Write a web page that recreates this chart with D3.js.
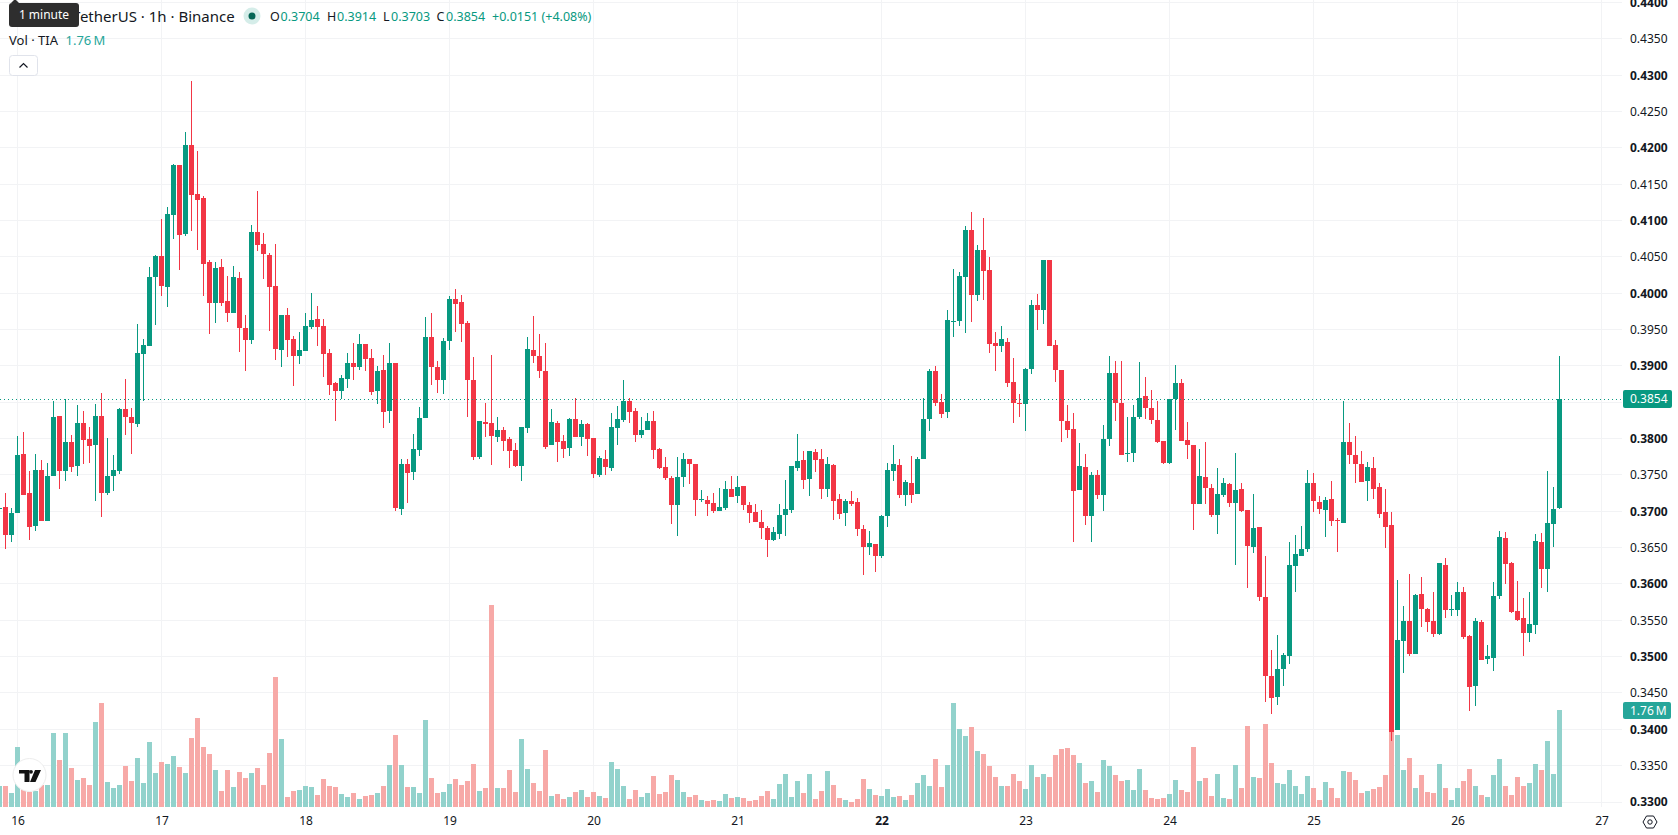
<!DOCTYPE html>
<html>
<head>
<meta charset="utf-8">
<title>TIA / TetherUS 1h</title>
<script src="https://cdnjs.cloudflare.com/ajax/libs/d3/7.8.5/d3.min.js"></script>
<style>
  html, body { margin: 0; padding: 0; background: #fff; overflow: hidden; }
  svg { display: block; font-family: "Noto Sans", "Open Sans", sans-serif; }
</style>
</head>
<body>
<svg id="chart" width="1678" height="835"></svg>
<script>
// Hourly candles, oldest first. The first bar opens three hours before day 16.
const opens = [
0.3705,0.3706,0.3667,0.3698,0.3779,0.3725,0.3680,0.3757,0.3687,0.3748,
0.3831,0.3756,0.3795,0.3763,0.3822,0.3800,0.3791,0.3831,0.3725,0.3749,
0.3756,0.3841,0.3830,0.3820,0.3917,0.3928,0.4022,0.4051,0.4009,0.4108,
0.4177,0.4082,0.4204,0.4137,0.4131,0.4043,0.3987,0.4036,0.3989,0.3973,
0.4021,0.3952,0.3936,0.4084,0.4068,0.4053,0.4010,0.3922,0.3970,0.3937,
0.3914,0.3921,0.3954,0.3965,0.3955,0.3918,0.3877,0.3866,0.3882,0.3904,
0.3899,0.3930,0.3911,0.3866,0.3894,0.3838,0.3904,0.3703,0.3765,0.3754,
0.3784,0.3828,0.3940,0.3899,0.3881,0.3934,0.3992,0.3988,0.3959,0.3881,
0.3775,0.3823,0.3822,0.3802,0.3812,0.3800,0.3784,0.3762,0.3815,0.3922,
0.3914,0.3893,0.3791,0.3822,0.3797,0.3787,0.3827,0.3802,0.3820,0.3801,
0.3750,0.3772,0.3760,0.3815,0.3826,0.3852,0.3838,0.3805,0.3812,0.3824,
0.3786,0.3761,0.3746,0.3709,0.3747,0.3772,0.3765,0.3716,0.3716,0.3711,
0.3700,0.3705,0.3731,0.3721,0.3735,0.3709,0.3699,0.3685,0.3677,0.3661,
0.3669,0.3695,0.3702,0.3760,0.3771,0.3744,0.3782,0.3772,0.3731,0.3764,
0.3717,0.3698,0.3714,0.3713,0.3676,0.3651,0.3655,0.3639,0.3694,0.3755,
0.3764,0.3722,0.3739,0.3724,0.3772,0.3827,0.3893,0.3850,0.3837,0.3960,
0.3962,0.4022,0.4087,0.3998,0.4060,0.4032,0.3932,0.3927,0.3933,0.3878,
0.3849,0.3848,0.3896,0.3984,0.3977,0.4046,0.3929,0.3894,0.3824,0.3813,
0.3729,0.3761,0.3694,0.3750,0.3722,0.3800,0.3890,0.3849,0.3779,0.3780,
0.3830,0.3859,0.3842,0.3826,0.3797,0.3766,0.3855,0.3877,0.3798,0.3791,
0.3710,0.3747,0.3732,0.3695,0.3722,0.3738,0.3711,0.3731,0.3702,0.3651,
0.3678,0.3582,0.3473,0.3445,0.3483,0.3501,0.3625,0.3639,0.3648,0.3739,
0.3713,0.3702,0.3717,0.3688,0.3684,0.3795,0.3777,0.3765,0.3742,0.3760,
0.3733,0.3699,0.3681,0.3399,0.3522,0.3549,0.3504,0.3586,0.3566,0.3549,
0.3531,0.3626,0.3564,0.3564,0.3589,0.3528,0.3460,0.3548,0.3497,0.3498,
0.3583,0.3663,0.3629,0.3563,0.3553,0.3532,0.3544,0.3658,0.3621,0.3683,0.3704];

const highs = [
0.3706,0.3725,0.3704,0.3804,0.3809,0.3755,0.3779,0.3771,0.3767,0.3852,
0.3831,0.3854,0.3805,0.3846,0.3838,0.3816,0.3848,0.3863,0.3801,0.3778,
0.3842,0.3882,0.3842,0.3958,0.3937,0.4036,0.4053,0.4102,0.4119,0.4178,
0.4177,0.4222,0.4292,0.4196,0.4134,0.4046,0.4043,0.4047,0.4024,0.4038,
0.4029,0.3970,0.4094,0.4141,0.4083,0.4055,0.4068,0.3970,0.3980,0.3941,
0.3947,0.3973,0.4000,0.3983,0.3965,0.3923,0.3878,0.3888,0.3918,0.3932,
0.3944,0.3930,0.3923,0.3900,0.3915,0.3932,0.3904,0.3772,0.3772,0.3806,
0.3844,0.3967,0.3973,0.3907,0.3938,0.3996,0.4006,0.3998,0.3962,0.3912,
0.3824,0.3849,0.3915,0.3830,0.3816,0.3802,0.3794,0.3816,0.3940,0.3969,
0.3944,0.3932,0.3841,0.3824,0.3805,0.3828,0.3856,0.3826,0.3822,0.3801,
0.3776,0.3784,0.3835,0.3845,0.3881,0.3856,0.3842,0.3830,0.3835,0.3838,
0.3787,0.3775,0.3749,0.3775,0.3780,0.3772,0.3765,0.3729,0.3721,0.3725,
0.3732,0.3742,0.3749,0.3749,0.3735,0.3713,0.3710,0.3702,0.3680,0.3678,
0.3710,0.3743,0.3762,0.3806,0.3783,0.3783,0.3786,0.3786,0.3775,0.3765,
0.3724,0.3717,0.3728,0.3718,0.3681,0.3673,0.3655,0.3695,0.3766,0.3791,
0.3772,0.3743,0.3776,0.3775,0.3856,0.3896,0.3900,0.3861,0.3977,0.4033,
0.4029,0.4093,0.4112,0.4066,0.4104,0.4050,0.3947,0.3955,0.3939,0.3911,
0.3861,0.3897,0.3991,0.3999,0.4046,0.4046,0.3936,0.3895,0.3846,0.3835,
0.3794,0.3779,0.3754,0.3757,0.3819,0.3914,0.3907,0.3907,0.3830,0.3846,
0.3905,0.3885,0.3867,0.3852,0.3797,0.3855,0.3901,0.3882,0.3823,0.3791,
0.3786,0.3795,0.3738,0.3760,0.3746,0.3739,0.3780,0.3739,0.3702,0.3724,
0.3679,0.3639,0.3509,0.3530,0.3505,0.3658,0.3667,0.3680,0.3757,0.3753,
0.3721,0.3720,0.3742,0.3691,0.3852,0.3822,0.3804,0.3783,0.3768,0.3775,
0.3739,0.3731,0.3699,0.3606,0.3570,0.3614,0.3586,0.3610,0.3567,0.3589,
0.3629,0.3636,0.3585,0.3603,0.3596,0.3530,0.3553,0.3550,0.3516,0.3603,
0.3673,0.3672,0.3630,0.3604,0.3581,0.3589,0.3669,0.3670,0.3755,0.3733,0.3914];

const lows = [
0.3705,0.3648,0.3658,0.3698,0.3723,0.3661,0.3673,0.3687,0.3687,0.3748,
0.3731,0.3742,0.3754,0.3749,0.3765,0.3767,0.3714,0.3692,0.3722,0.3728,
0.3751,0.3805,0.3779,0.3816,0.3852,0.3927,0.3956,0.3996,0.3981,0.4075,
0.4032,0.4079,0.4086,0.4060,0.3996,0.3944,0.3959,0.3983,0.3961,0.3973,
0.3919,0.3893,0.3930,0.4058,0.4020,0.3948,0.3908,0.3899,0.3912,0.3872,
0.3903,0.3921,0.3951,0.3928,0.3885,0.3860,0.3824,0.3855,0.3870,0.3881,
0.3894,0.3893,0.3860,0.3848,0.3815,0.3822,0.3700,0.3695,0.3711,0.3743,
0.3776,0.3828,0.3874,0.3863,0.3861,0.3922,0.3947,0.3933,0.3830,0.3771,
0.3772,0.3802,0.3764,0.3795,0.3783,0.3760,0.3761,0.3742,0.3808,0.3904,
0.3883,0.3786,0.3791,0.3768,0.3773,0.3776,0.3802,0.3790,0.3776,0.3746,
0.3747,0.3750,0.3755,0.3791,0.3823,0.3822,0.3795,0.3801,0.3812,0.3772,
0.3758,0.3743,0.3683,0.3666,0.3733,0.3738,0.3694,0.3713,0.3694,0.3698,
0.3700,0.3702,0.3720,0.3711,0.3702,0.3684,0.3685,0.3662,0.3637,0.3659,
0.3662,0.3666,0.3698,0.3755,0.3731,0.3721,0.3754,0.3717,0.3720,0.3688,
0.3689,0.3680,0.3707,0.3666,0.3612,0.3640,0.3616,0.3636,0.3678,0.3742,
0.3718,0.3707,0.3711,0.3724,0.3772,0.3810,0.3845,0.3828,0.3828,0.3940,
0.3955,0.3945,0.3960,0.3989,0.3991,0.3918,0.3893,0.3919,0.3871,0.3822,
0.3830,0.3810,0.3889,0.3950,0.3958,0.3927,0.3878,0.3795,0.3801,0.3658,
0.3729,0.3681,0.3658,0.3717,0.3700,0.3790,0.3824,0.3778,0.3768,0.3768,
0.3827,0.3827,0.3820,0.3794,0.3765,0.3765,0.3812,0.3797,0.3772,0.3674,
0.3710,0.3710,0.3692,0.3669,0.3720,0.3706,0.3626,0.3699,0.3594,0.3643,
0.3577,0.3438,0.3421,0.3433,0.3460,0.3490,0.3589,0.3639,0.3644,0.3699,
0.3696,0.3665,0.3680,0.3644,0.3684,0.3765,0.3739,0.3740,0.3714,0.3717,
0.3691,0.3650,0.3384,0.3399,0.3477,0.3501,0.3504,0.3541,0.3534,0.3527,
0.3530,0.3553,0.3556,0.3556,0.3524,0.3425,0.3432,0.3495,0.3490,0.3480,
0.3579,0.3600,0.3560,0.3549,0.3501,0.3520,0.3531,0.3594,0.3589,0.3651,0.3703];

const closes = [
0.3705,0.3667,0.3697,0.3777,0.3723,0.3679,0.3757,0.3687,0.3749,0.3830,
0.3756,0.3795,0.3761,0.3822,0.3798,0.3790,0.3831,0.3725,0.3749,0.3757,
0.3841,0.3830,0.3822,0.3918,0.3929,0.4022,0.4051,0.4010,0.4109,0.4177,
0.4080,0.4204,0.4135,0.4128,0.4040,0.3987,0.4035,0.3987,0.3973,0.4022,
0.3952,0.3936,0.4084,0.4066,0.4054,0.4009,0.3923,0.3970,0.3936,0.3914,
0.3922,0.3955,0.3963,0.3954,0.3916,0.3874,0.3866,0.3883,0.3904,0.3899,
0.3930,0.3910,0.3864,0.3893,0.3837,0.3904,0.3705,0.3765,0.3753,0.3786,
0.3828,0.3940,0.3899,0.3881,0.3934,0.3992,0.3985,0.3958,0.3881,0.3775,
0.3824,0.3820,0.3804,0.3812,0.3797,0.3783,0.3762,0.3816,0.3923,0.3914,
0.3893,0.3789,0.3823,0.3795,0.3786,0.3827,0.3802,0.3820,0.3800,0.3751,
0.3773,0.3761,0.3816,0.3827,0.3852,0.3837,0.3805,0.3812,0.3824,0.3784,
0.3760,0.3746,0.3709,0.3747,0.3772,0.3765,0.3716,0.3717,0.3710,0.3700,
0.3706,0.3731,0.3720,0.3733,0.3709,0.3698,0.3685,0.3677,0.3661,0.3672,
0.3695,0.3703,0.3762,0.3769,0.3743,0.3783,0.3771,0.3731,0.3765,0.3714,
0.3696,0.3714,0.3710,0.3676,0.3651,0.3656,0.3639,0.3694,0.3757,0.3765,
0.3722,0.3740,0.3722,0.3772,0.3827,0.3893,0.3849,0.3834,0.3963,0.3962,
0.4024,0.4087,0.3998,0.4060,0.4031,0.3930,0.3927,0.3937,0.3877,0.3849,
0.3848,0.3896,0.3984,0.3977,0.4046,0.3927,0.3894,0.3824,0.3812,0.3728,
0.3762,0.3694,0.3750,0.3722,0.3800,0.3890,0.3849,0.3778,0.3780,0.3830,
0.3856,0.3842,0.3826,0.3795,0.3766,0.3855,0.3877,0.3797,0.3791,0.3710,
0.3749,0.3732,0.3695,0.3724,0.3739,0.3711,0.3729,0.3700,0.3652,0.3677,
0.3582,0.3473,0.3443,0.3483,0.3502,0.3626,0.3641,0.3648,0.3739,0.3714,
0.3703,0.3716,0.3687,0.3687,0.3795,0.3777,0.3765,0.3740,0.3761,0.3731,
0.3696,0.3678,0.3396,0.3523,0.3549,0.3504,0.3585,0.3566,0.3548,0.3531,
0.3629,0.3564,0.3566,0.3589,0.3527,0.3458,0.3549,0.3495,0.3501,0.3583,
0.3665,0.3627,0.3561,0.3550,0.3532,0.3545,0.3659,0.3621,0.3684,0.3703,0.3854];

// Traded volume per candle, in millions of TIA.
const volumes = [
.38,.38,.25,1.09,.33,.27,.29,.40,.40,1.34,
.85,1.34,.71,.49,.53,.40,1.54,1.89,.45,.34,
.40,.74,.47,.89,.44,1.18,.62,.82,.78,.93,
.73,.62,1.25,1.62,1.09,.96,.67,.29,.67,.36,
.64,.53,.62,.71,.40,.98,2.36,1.23,.18,.29,
.31,.38,.36,.22,.51,.38,.36,.24,.18,.25,
.15,.20,.22,.25,.38,.76,1.31,.76,.36,.36,
.25,1.58,.53,.25,.27,.42,.51,.40,.47,.78,
.29,.34,3.67,.34,.34,.67,.27,1.23,.69,.44,
.29,1.03,.20,.24,.15,.18,.27,.31,.18,.27,
.20,.16,.82,.69,.38,.15,.31,.18,.25,.56,
.24,.27,.58,.49,.27,.18,.22,.13,.11,.13,
.11,.24,.16,.18,.16,.11,.13,.20,.29,.15,
.42,.60,.18,.47,.25,.60,.15,.29,.65,.40,
.16,.13,.09,.15,.51,.33,.22,.20,.33,.18,
.20,.13,.22,.44,.58,.38,.87,.36,.76,1.89,
1.42,1.29,1.45,1.02,.96,.74,.54,.38,.38,.60,
.47,.33,.76,.54,.60,.54,.94,1.05,1.07,.94,
.80,.44,.47,.27,.85,.74,.58,.47,.49,.31,
.69,.31,.16,.15,.16,.24,.49,.31,.27,1.09,
.47,.53,.20,.60,.16,.15,.76,.34,1.47,.54,
.53,1.51,.80,.44,.42,.67,.38,.24,.56,.34,
.13,.45,.34,.16,.65,.64,.49,.25,.29,.33,
.36,.58,1.58,1.31,.67,.89,.34,.58,.27,.25,
.78,.34,.13,.34,.47,.69,.38,.22,.18,.58,
.87,.38,.22,.54,.38,.44,.78,.67,1.20,.60,1.76];

const dayLabels = ["16","17","18","19","20","21","22","23","24","25","26","27"];
const priceTicks = [0.33,0.335,0.34,0.345,0.35,0.355,0.36,0.365,0.37,0.375,0.38,0.385,
                    0.39,0.395,0.40,0.405,0.41,0.415,0.42,0.425,0.43,0.435,0.44];
const firstHour = -3;            // hours relative to midnight of day 16
const lastPrice = 0.3854;
const lastVolume = 1.76;

const legendOHLC = [
  {k:"O", v:"0.3704", kx:270, vx:280.5},
  {k:"H", v:"0.3914", kx:327, vx:337},
  {k:"L", v:"0.3703", kx:383, vx:391},
  {k:"C", v:"0.3854", kx:436.5, vx:446}
];

const UP = "#089981", DOWN = "#F23645";
const VOL_UP = "#92D2CC", VOL_DOWN = "#F7A9A7";
const TEXT = "#131722", GRID = "#F2F3F5";
const PLOT_W = 1622, PLOT_B = 807;

const candles = opens.map((o, i) => ({
  hour: firstHour + i, o, h: highs[i], l: lows[i], c: closes[i], v: volumes[i], up: closes[i] >= o
}));

const svg = d3.select("#chart");
const x = d3.scaleLinear().domain([0, 1]).range([17.5, 23.5]);
const y = d3.scaleLinear().domain([0.33, 0.44]).range([802, 2.6]);
const yVol = d3.scaleLinear().domain([0, lastVolume]).range([PLOT_B, 710]);
const dayHours = dayLabels.map((_, i) => i * 24);
const crisp = v => Math.floor(v) + 0.5;

// Grid
const grid = svg.append("g").attr("shape-rendering", "crispEdges");
grid.selectAll("line.h").data(priceTicks).join("line")
  .attr("x1", 0).attr("x2", PLOT_W)
  .attr("y1", d => crisp(y(d))).attr("y2", d => crisp(y(d)))
  .attr("stroke", GRID);
grid.selectAll("line.v").data(dayHours).join("line")
  .attr("class", "v")
  .attr("x1", d => crisp(x(d))).attr("x2", d => crisp(x(d)))
  .attr("y1", 0).attr("y2", PLOT_B)
  .attr("stroke", GRID);

// Volume histogram sits under the candles
svg.append("g").attr("shape-rendering", "crispEdges")
  .selectAll("rect").data(candles).join("rect")
  .attr("x", d => Math.round(x(d.hour) - 2.5))
  .attr("width", 5)
  .attr("y", d => Math.round(yVol(d.v)))
  .attr("height", d => PLOT_B - Math.round(yVol(d.v)))
  .attr("fill", d => d.up ? VOL_UP : VOL_DOWN);

// Candles: wick then body
const candleG = svg.append("g").attr("shape-rendering", "crispEdges")
  .selectAll("g").data(candles).join("g")
  .attr("fill", d => d.up ? UP : DOWN);
candleG.append("rect")
  .attr("x", d => Math.floor(x(d.hour)))
  .attr("width", 1)
  .attr("y", d => Math.round(y(d.h)))
  .attr("height", d => Math.max(1, Math.round(y(d.l)) - Math.round(y(d.h))));
candleG.append("rect")
  .attr("x", d => Math.round(x(d.hour) - 2.5))
  .attr("width", 5)
  .attr("y", d => Math.round(y(Math.max(d.o, d.c))))
  .attr("height", d => Math.max(1, Math.round(y(Math.min(d.o, d.c))) - Math.round(y(Math.max(d.o, d.c)))));

// Last price line
svg.append("line")
  .attr("x1", 0).attr("x2", PLOT_W)
  .attr("y1", crisp(y(lastPrice))).attr("y2", crisp(y(lastPrice)))
  .attr("stroke", UP).attr("stroke-dasharray", "1 3")
  .attr("shape-rendering", "crispEdges");

// Price axis, every second tick in bold; the last price badge takes the place of 0.3850
const priceAxis = svg.append("g")
  .attr("transform", `translate(${PLOT_W},0)`)
  .call(d3.axisRight(y).tickValues(priceTicks.filter(t => t !== 0.385))
    .tickSize(0).tickPadding(8).tickFormat(d3.format(".4f")));
priceAxis.select(".domain").remove();
priceAxis.attr("font-family", null);
priceAxis.selectAll("text")
  .attr("font-size", 12).attr("fill", TEXT)
  .attr("font-weight", d => Math.round(d * 1000) % 10 === 0 ? 700 : 400);

// Time axis, day numbers with the week start in bold
const timeAxis = svg.append("g")
  .attr("transform", `translate(0,${PLOT_B})`)
  .call(d3.axisBottom(x).tickValues(dayHours).tickSize(0).tickPadding(9)
    .tickFormat((d, i) => dayLabels[i]));
timeAxis.select(".domain").remove();
timeAxis.attr("font-family", null);
timeAxis.selectAll("text")
  .attr("font-size", 12).attr("fill", TEXT)
  .attr("font-weight", (d, i) => dayLabels[i] === "22" ? 700 : 400);

// Axis badges
function badge(y0, h, x0, w, fill, label) {
  svg.append("rect").attr("x", x0).attr("y", y0).attr("width", w).attr("height", h)
    .attr("rx", 2).attr("fill", fill);
  svg.append("text").attr("x", 1630).attr("y", y0 + h / 2).attr("dy", "0.35em")
    .attr("font-size", 12).attr("fill", "#fff").text(label);
}
badge(390, 18, 1623, 49, UP, d3.format(".4f")(lastPrice));
badge(702, 17, 1623, 48, "#26A69A", lastVolume.toFixed(2) + "\u2009M");

// Legend
const title = svg.append("text").attr("x", 9).attr("y", 21.5)
  .attr("font-size", 15).attr("fill", TEXT);
title.append("tspan").attr("letter-spacing", "-0.5").text("Celestia / T");
title.append("tspan").text("etherUS \u00B7 1h \u00B7 Binance");
svg.append("circle").attr("cx", 252).attr("cy", 16).attr("r", 8.5).attr("fill", "#D5EDE9");
svg.append("circle").attr("cx", 252).attr("cy", 16).attr("r", 3.5).attr("fill", "#056656");

const ohlc = svg.append("g").attr("font-size", 12.5);
legendOHLC.forEach(d => {
  ohlc.append("text").attr("x", d.kx).attr("y", 21).attr("fill", TEXT).text(d.k);
  ohlc.append("text").attr("x", d.vx).attr("y", 21).attr("fill", UP).text(d.v);
});
ohlc.append("text").attr("x", 492).attr("y", 21).attr("fill", UP).text("+0.0151 (+4.08%)");

svg.append("text").attr("x", 9).attr("y", 45).attr("font-size", 13).attr("fill", TEXT).text("Vol \u00B7 TIA");
svg.append("text").attr("x", 65.5).attr("y", 45).attr("font-size", 13).attr("fill", "#26A69A")
  .text(lastVolume.toFixed(2) + "\u2009M");

// Collapse button
svg.append("rect").attr("x", 9.5).attr("y", 55.5).attr("width", 28).attr("height", 20).attr("rx", 3)
  .attr("fill", "#fff").attr("stroke", "#E0E3EB");
svg.append("path").attr("d", "M19.5 67.5 L23.5 63.5 L27.5 67.5").attr("fill", "none")
  .attr("stroke", TEXT).attr("stroke-width", 1.2);

// Tooltip over the start of the legend
svg.append("path").attr("d", "M11 3 L15 -1 L19 3 Z").attr("fill", "#2E2E2E");
svg.append("rect").attr("x", 9).attr("y", 3).attr("width", 70).attr("height", 24).attr("rx", 3).attr("fill", "#2E2E2E");
svg.append("text").attr("x", 44).attr("y", 15).attr("dy", "0.35em").attr("text-anchor", "middle")
  .attr("font-size", 12).attr("fill", "#fff").text("1 minute");

// Brand badge
const logo = svg.append("g").attr("transform", "translate(29.5,775)");
logo.append("circle").attr("r", 16.5).attr("fill", "#fff").attr("stroke", "#EDEDED");
logo.append("path").attr("fill", "#131313")
  .attr("d", "M-10.5 -5 H0 V7 H-5 V-1.5 H-10.5 Z M5.5 -5 H11.5 L6 7 H0.5 Z");
logo.append("circle").attr("cx", 1.5).attr("cy", -3.2).attr("r", 1.9).attr("fill", "#131313");

// Settings icon in the bottom right corner
const gear = svg.append("g").attr("transform", "translate(1650,822)")
  .attr("fill", "none").attr("stroke", TEXT).attr("stroke-width", 1);
gear.append("path").attr("d", "M-7 0 L-3.5 -6 H3.5 L7 0 L3.5 6 H-3.5 Z");
gear.append("circle").attr("r", 2.2);
</script>
</body>
</html>
